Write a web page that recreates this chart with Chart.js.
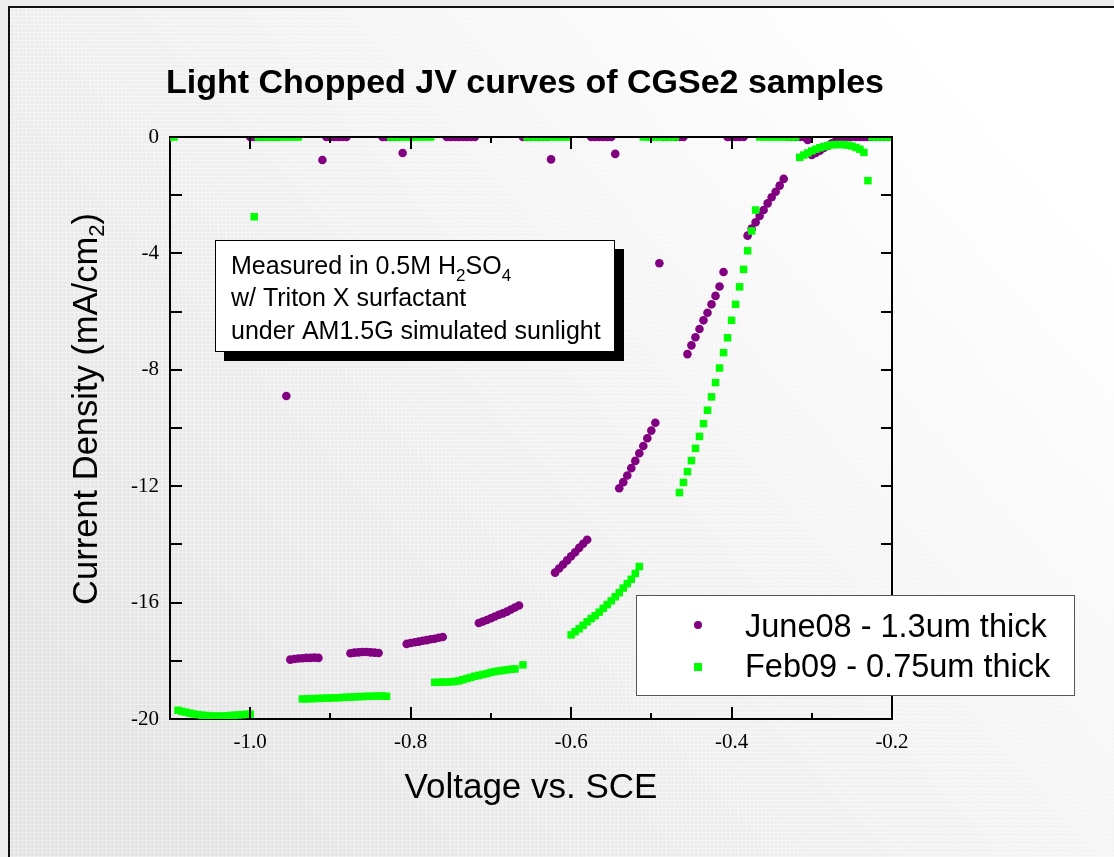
<!DOCTYPE html>
<html>
<head>
<meta charset="utf-8">
<script src="https://cdn.jsdelivr.net/npm/chart.js@4.4.0/dist/chart.umd.min.js"></script>
<style>
  html, body { margin: 0; padding: 0; background: #eeeeee; }
  canvas { display: block; }
</style>
</head>
<body>
<canvas id="canevas" width="1114" height="857"></canvas>
<script>
// voltage (V vs SCE) and current density (mA/cm2)
var juneV = [
  -1.000,-0.995,-0.990,-0.985,-0.980,-0.975,-0.970,-0.965,
  -0.955,
  -0.950,-0.945,-0.940,-0.935,-0.930,-0.925,-0.920,-0.915,
  -0.910,
  -0.905,-0.900,-0.895,-0.890,-0.885,-0.880,
  -0.875,-0.870,-0.865,-0.860,-0.855,-0.850,-0.845,-0.840,
  -0.835,-0.830,-0.825,-0.820,-0.815,
  -0.810,
  -0.805,-0.800,-0.795,-0.790,-0.785,-0.780,-0.775,-0.770,-0.765,-0.760,
  -0.755,-0.750,-0.745,-0.740,-0.735,-0.730,-0.725,-0.720,
  -0.715,-0.710,-0.705,-0.700,-0.695,-0.690,-0.685,-0.680,-0.675,-0.670,-0.665,
  -0.660,-0.655,-0.650,-0.645,-0.640,-0.635,-0.630,
  -0.625,
  -0.620,-0.615,-0.610,-0.605,-0.600,-0.595,-0.590,-0.585,-0.580,
  -0.575,-0.570,-0.565,-0.560,-0.555,-0.550,
  -0.545,
  -0.540,-0.535,-0.530,-0.525,-0.520,-0.515,-0.510,-0.505,-0.500,-0.495,
  -0.490,
  -0.485,-0.480,-0.475,-0.470,-0.465,-0.460,
  -0.455,-0.450,-0.445,-0.440,-0.435,-0.430,-0.425,-0.420,-0.415,-0.410,
  -0.405,-0.400,-0.395,-0.390,-0.385,
  -0.380,-0.375,-0.370,-0.365,-0.360,-0.355,-0.350,-0.345,-0.340,-0.335,
  -0.330,-0.325,-0.320,-0.315,-0.310,-0.305,
  -0.300,-0.295,-0.290,-0.285,-0.280,-0.275,-0.270,-0.265,
  -0.260,-0.255,-0.250,-0.245,-0.240,-0.235,-0.230,-0.225,-0.220,-0.215,-0.210,-0.205,-0.200
];
var juneJ = [
  0,0,0,0,0,0,0,0,
  -8.90,
  -17.96,-17.94,-17.92,-17.91,-17.90,-17.90,-17.89,-17.90,
  -0.79,
  0,0,0,0,0,0,
  -17.74,-17.72,-17.71,-17.70,-17.70,-17.71,-17.72,-17.73,
  0,0,0,0,0,
  -0.55,
  -17.42,-17.39,-17.36,-17.34,-17.31,-17.29,-17.26,-17.24,-17.21,-17.18,
  0,0,0,0,0,0,0,0,
  -16.70,-16.65,-16.60,-16.54,-16.48,-16.42,-16.37,-16.31,-16.24,-16.17,-16.10,
  0,0,0,0,0,0,0,
  -0.77,
  -14.97,-14.83,-14.69,-14.55,-14.41,-14.27,-14.12,-13.98,-13.84,
  0,0,0,0,0,0,
  -0.58,
  -12.07,-11.86,-11.63,-11.38,-11.13,-10.87,-10.62,-10.35,-10.09,-9.82,
  -4.34,
  0,0,0,0,0,0,
  -7.46,-7.16,-6.88,-6.60,-6.30,-6.04,-5.75,-5.46,-5.14,-4.64,
  0,0,0,0,0,
  -3.39,-3.15,-2.93,-2.71,-2.51,-2.28,-2.07,-1.88,-1.67,-1.44,
  0,0,0,0,0,-0.10,
  -0.62,-0.55,-0.47,-0.38,-0.30,-0.22,-0.14,-0.07,
  0,0,0,0,0,0,0,0,0,0,0,0,0
];

var febV = [
  -1.100,-1.095,
  -1.090,-1.085,-1.080,-1.075,-1.070,-1.065,-1.060,-1.055,-1.050,-1.045,-1.040,-1.035,-1.030,-1.025,-1.020,-1.015,-1.010,-1.005,-1.000,
  -0.995,
  -0.990,-0.985,-0.980,-0.975,-0.970,-0.965,-0.960,-0.955,-0.950,-0.945,-0.940,
  -0.935,-0.930,-0.925,-0.920,-0.915,-0.910,-0.905,-0.900,-0.895,-0.890,-0.885,-0.880,-0.875,-0.870,-0.865,-0.860,-0.855,-0.850,-0.845,-0.840,-0.835,-0.830,
  -0.825,-0.820,-0.815,-0.810,-0.805,-0.800,-0.795,-0.790,-0.785,-0.780,-0.775,
  -0.770,-0.765,-0.760,-0.755,-0.750,-0.745,-0.740,-0.735,-0.730,-0.725,-0.720,-0.715,-0.710,-0.705,-0.700,-0.695,-0.690,-0.685,-0.680,-0.675,-0.670,
  -0.660,
  -0.655,-0.650,-0.645,-0.640,-0.635,-0.630,-0.625,-0.620,-0.615,-0.610,-0.605,
  -0.600,-0.595,-0.590,-0.585,-0.580,-0.575,-0.570,-0.565,-0.560,-0.555,-0.550,-0.545,-0.540,-0.535,-0.530,-0.525,-0.520,-0.515,
  -0.510,-0.505,-0.500,-0.495,-0.490,-0.485,-0.480,-0.475,-0.470,
  -0.465,-0.460,-0.455,-0.450,-0.445,-0.440,-0.435,-0.430,-0.425,-0.420,-0.415,-0.410,-0.405,-0.400,-0.395,-0.390,-0.385,-0.380,-0.375,-0.370,
  -0.365,-0.360,-0.355,-0.350,-0.345,-0.340,-0.335,-0.330,-0.325,-0.320,
  -0.315,-0.310,-0.305,-0.300,-0.295,-0.290,-0.285,-0.280,-0.275,-0.270,-0.265,-0.260,-0.255,-0.250,-0.245,-0.240,-0.235,
  -0.230,
  -0.225,-0.220,-0.215,-0.210,-0.205,-0.200
];
var febJ = [
  0,0,
  -19.70,-19.74,-19.77,-19.80,-19.83,-19.85,-19.87,-19.88,-19.89,-19.90,-19.90,-19.90,-19.89,-19.88,-19.87,-19.86,-19.85,-19.84,-19.83,
  -2.74,
  0,0,0,0,0,0,0,0,0,0,0,
  -19.31,-19.31,-19.30,-19.30,-19.29,-19.29,-19.28,-19.28,-19.27,-19.27,-19.26,-19.25,-19.25,-19.24,-19.23,-19.23,-19.22,-19.22,-19.21,-19.21,-19.21,-19.22,
  0,0,0,0,0,0,0,0,0,0,0,
  -18.74,-18.74,-18.73,-18.73,-18.72,-18.71,-18.69,-18.65,-18.61,-18.57,-18.53,-18.50,-18.47,-18.44,-18.40,-18.37,-18.35,-18.33,-18.31,-18.29,-18.28,
  -18.14,
  0,0,0,0,0,0,0,0,0,0,0,
  -17.11,-17.00,-16.90,-16.78,-16.66,-16.55,-16.45,-16.33,-16.20,-16.07,-15.94,-15.80,-15.66,-15.50,-15.35,-15.20,-15.00,-14.76,
  0,0,0,0,0,0,0,0,0,
  -12.22,-11.87,-11.50,-11.12,-10.70,-10.29,-9.85,-9.39,-8.93,-8.44,-7.94,-7.41,-6.90,-6.30,-5.75,-5.15,-4.55,-3.91,-3.23,-2.51,
  0,0,0,0,0,0,0,0,0,0,
  -0.70,-0.62,-0.55,-0.48,-0.42,-0.37,-0.33,-0.30,-0.27,-0.26,-0.26,-0.26,-0.28,-0.31,-0.36,-0.42,-0.53,
  -1.50,
  0,0,0,0,0,0
];

var seriesNames = ["June08 - 1.3um thick", "Feb09 - 0.75um thick"];
var xTicks = [-1.0, -0.8, -0.6, -0.4, -0.2];
var xMinorTicks = [-1.0, -0.9, -0.8, -0.7, -0.6, -0.5, -0.4, -0.3];
var yTicks = [0, -4, -8, -12, -16, -20];
var yMinorTicks = [-2, -4, -6, -8, -10, -12, -14, -16, -18];

if (juneV.length != juneJ.length || febV.length != febJ.length) {
  console.log("length mismatch", juneV.length, juneJ.length, febV.length, febJ.length);
}

function pairs(xs, ys) {
  return xs.map(function (x, i) { return { x: x, y: ys[i] }; });
}

var purple = "#800080";
var green = "#00ff00";
var sans = '"Liberation Sans", Arial, sans-serif';

var backPlugin = {
  id: "back",
  beforeDraw: function (chart) {
    var ctx = chart.ctx, W = chart.width, H = chart.height;
    ctx.save();
    ctx.fillStyle = "#eeeeee";
    ctx.fillRect(0, 0, W, H);
    var g = ctx.createLinearGradient(1000, 130, 180, 860);
    g.addColorStop(0, "#ffffff");
    g.addColorStop(1, "#e2e2e2");
    ctx.fillStyle = g;
    ctx.fillRect(9, 7, W, H);
    // faint grid texture of the slide background
    ctx.strokeStyle = "rgba(255,255,255,0.35)";
    ctx.lineWidth = 1;
    ctx.beginPath();
    for (var x = 10.5; x < W; x += 4) { ctx.moveTo(x, 8); ctx.lineTo(x, H); }
    for (var y = 8.5; y < H; y += 4) { ctx.moveTo(10, y); ctx.lineTo(W, y); }
    ctx.stroke();
    ctx.strokeStyle = "#111";
    ctx.lineWidth = 2;
    ctx.beginPath();
    ctx.moveTo(9, H); ctx.lineTo(9, 7); ctx.lineTo(W, 7);
    ctx.stroke();
    ctx.restore();
  }
};

var decoPlugin = {
  id: "deco",
  afterDraw: function (chart) {
    var ctx = chart.ctx, a = chart.chartArea;
    var xs = chart.scales.x, ys = chart.scales.y;
    ctx.save();

    // mirror axes + inward ticks
    ctx.strokeStyle = "#000";
    ctx.lineWidth = 2;
    ctx.beginPath();
    ctx.moveTo(a.left, a.top); ctx.lineTo(a.right, a.top); ctx.lineTo(a.right, a.bottom);
    xMinorTicks.forEach(function (v) {
      var px = Math.round(xs.getPixelForValue(v));
      var len = xTicks.indexOf(v) >= 0 ? 12 : 6;
      ctx.moveTo(px, a.bottom); ctx.lineTo(px, a.bottom - len);
      ctx.moveTo(px, a.top); ctx.lineTo(px, a.top + len);
    });
    yMinorTicks.forEach(function (v) {
      var py = Math.round(ys.getPixelForValue(v));
      ctx.moveTo(a.left, py); ctx.lineTo(a.left + 12, py);
      ctx.moveTo(a.right, py); ctx.lineTo(a.right - 11, py);
    });
    ctx.stroke();

    // title
    ctx.fillStyle = "#000";
    ctx.textBaseline = "alphabetic";
    ctx.textAlign = "center";
    ctx.font = "bold 34px " + sans;
    ctx.fillText("Light Chopped JV curves of CGSe2 samples", 525, 93);

    // x axis title
    ctx.font = "35px " + sans;
    ctx.fillText("Voltage vs. SCE", 531, 798);

    // y axis title with subscript
    ctx.save();
    ctx.translate(97, 409);
    ctx.rotate(-Math.PI / 2);
    ctx.textAlign = "left";
    var big = "34.5px " + sans, small = "22px " + sans;
    ctx.font = big;
    var t1 = "Current Density (mA/cm", t3 = ")";
    var w1 = ctx.measureText(t1).width, w3 = ctx.measureText(t3).width;
    ctx.font = small;
    var w2 = ctx.measureText("2").width;
    var x0 = -(w1 + w2 + w3) / 2;
    ctx.font = big;
    ctx.fillText(t1, x0, 0);
    ctx.font = small;
    ctx.fillText("2", x0 + w1, 7);
    ctx.font = big;
    ctx.fillText(t3, x0 + w1 + w2, 0);
    ctx.restore();

    // note box with drop shadow
    ctx.fillStyle = "#000";
    ctx.fillRect(224, 249, 400, 112);
    ctx.fillStyle = "#fff";
    ctx.fillRect(215, 240, 400, 112);
    ctx.strokeStyle = "#000";
    ctx.lineWidth = 1;
    ctx.strokeRect(215.5, 240.5, 399, 111);
    ctx.fillStyle = "#000";
    ctx.textAlign = "left";
    var nf = "25px " + sans, nsub = "17px " + sans;
    var parts = [["Measured in 0.5M H", 0], ["2", 1], ["SO", 0], ["4", 1]];
    var cx = 231;
    parts.forEach(function (p) {
      ctx.font = p[1] ? nsub : nf;
      ctx.fillText(p[0], cx, 274 + (p[1] ? 7 : 0));
      cx += ctx.measureText(p[0]).width;
    });
    ctx.font = nf;
    ctx.fillText("w/ Triton X surfactant", 231, 306);
    ctx.fillText("under AM1.5G simulated sunlight", 231, 339);

    // legend box
    ctx.fillStyle = "#fff";
    ctx.fillRect(636, 595, 439, 101);
    ctx.strokeStyle = "#555";
    ctx.strokeRect(636.5, 595.5, 438, 100);
    ctx.fillStyle = purple;
    ctx.beginPath();
    ctx.arc(698, 625, 4, 0, Math.PI * 2);
    ctx.fill();
    ctx.fillStyle = green;
    ctx.fillRect(694, 663, 8, 8);
    ctx.fillStyle = "#000";
    ctx.font = "32.5px " + sans;
    ctx.fillText(seriesNames[0], 745, 637);
    ctx.fillText(seriesNames[1], 745, 677);

    ctx.restore();
  }
};

var c = document.getElementById("canevas");
var ctxS = c.getContext("2d");
var jvChart = new Chart(ctxS, {
  type: "scatter",
  data: {
    datasets: [
      {
        label: seriesNames[0],
        data: pairs(juneV, juneJ),
        pointStyle: "circle",
        pointRadius: 4.3,
        pointBorderWidth: 0,
        backgroundColor: purple,
        borderColor: purple,
        order: 1,
        clip: 0
      },
      {
        label: seriesNames[1],
        data: pairs(febV, febJ),
        pointStyle: "rect",
        pointRadius: 5.3,
        pointBorderWidth: 0,
        backgroundColor: green,
        borderColor: green,
        order: 0,
        clip: 0
      }
    ]
  },
  options: {
    responsive: false,
    animation: false,
    events: [],
    devicePixelRatio: 1,
    layout: { padding: { top: 137, right: 222, left: 0, bottom: 0 } },
    plugins: {
      legend: { display: false },
      title: { display: false },
      tooltip: { enabled: false }
    },
    scales: {
      x: {
        type: "linear",
        min: -1.1,
        max: -0.2,
        grid: { display: false, drawTicks: false },
        border: { display: true, color: "#000", width: 2 },
        afterBuildTicks: function (s) { s.ticks = xTicks.map(function (v) { return { value: v }; }); },
        afterFit: function (s) { s.height = 138; },
        ticks: {
          padding: 11,
          color: "#000",
          maxRotation: 0,
          font: { family: '"Liberation Serif", "Times New Roman", serif', size: 21 },
          callback: function (v) { return Number(v).toFixed(1); }
        }
      },
      y: {
        type: "linear",
        min: -20,
        max: 0,
        grid: { display: false, drawTicks: false },
        border: { display: true, color: "#000", width: 2 },
        afterBuildTicks: function (s) { s.ticks = yTicks.map(function (v) { return { value: v }; }); },
        afterFit: function (s) { s.width = 170; },
        ticks: {
          padding: 11,
          color: "#000",
          font: { family: '"Liberation Serif", "Times New Roman", serif', size: 21 },
          callback: function (v) { return String(v); }
        }
      }
    }
  },
  plugins: [backPlugin, decoPlugin]
});
</script>
</body>
</html>
